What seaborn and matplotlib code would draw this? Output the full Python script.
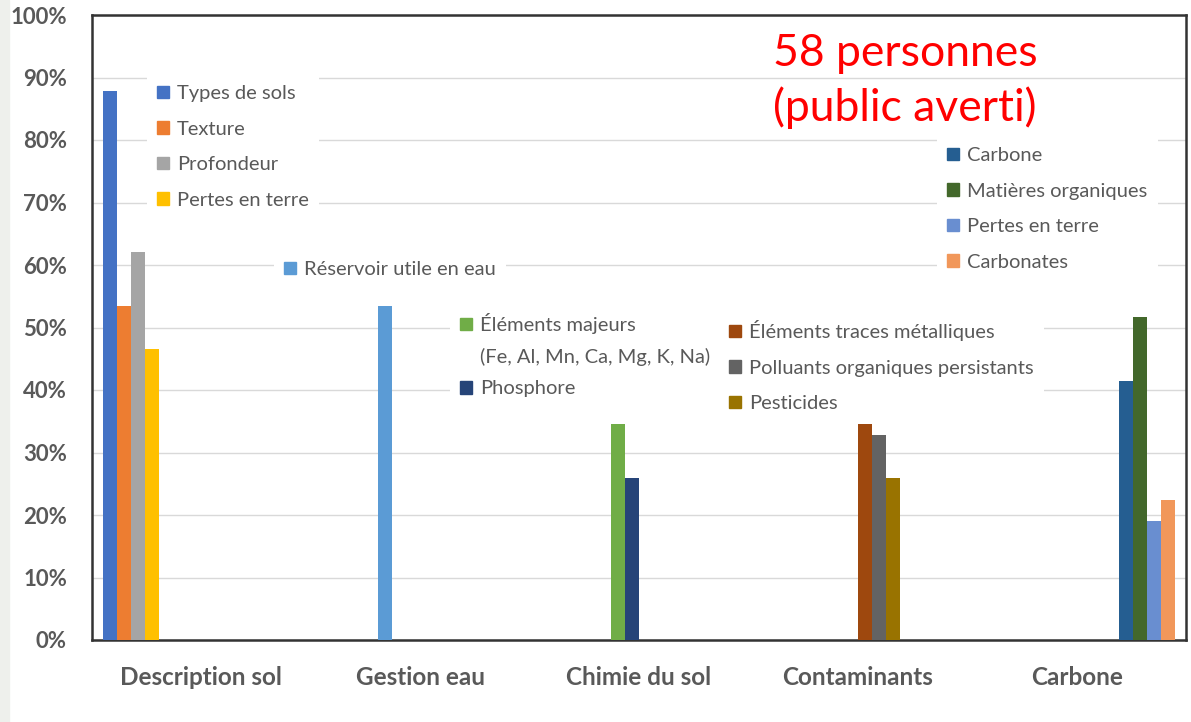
import matplotlib.pyplot as plt
import matplotlib.patches as mpatches
import pandas as pd
import seaborn as sns

categories = ["Description sol", "Gestion eau", "Chimie du sol", "Contaminants", "Carbone"]

series_desc = ["Types de sols", "Texture", "Profondeur", "Pertes en terre"]
values_desc = [87.9, 53.4, 62.1, 46.6]
series_eau = ["Réservoir utile en eau"]
values_eau = [53.4]
series_chimie = ["Éléments majeurs", "Phosphore"]
values_chimie = [34.5, 25.9]
series_contam = ["Éléments traces métalliques", "Polluants organiques persistants", "Pesticides"]
values_contam = [34.5, 32.8, 25.9]
series_carbone = ["Carbone", "Matières organiques", "Pertes en terre", "Carbonates"]
values_carbone = [41.4, 51.7, 19.0, 22.4]

colors = ["#4472C4", "#ED7D31", "#A5A5A5", "#FFC000", "#5B9BD5", "#70AD47", "#264478",
          "#9E480E", "#636363", "#997300", "#255E91", "#43682B", "#698ED0", "#F1975A"]

groups = [series_desc, series_eau, series_chimie, series_contam, series_carbone]
group_vals = [values_desc, values_eau, values_chimie, values_contam, values_carbone]

rows = []
for cat, names, vals in zip(categories, groups, group_vals):
    for n, v in zip(names, vals):
        rows.append({"categorie": cat, "serie": cat + " | " + n, "nom": n, "valeur": v})
df = pd.DataFrame(rows)
hue_order = list(df["serie"])

sns.set_style("white")
plt.rcParams["font.family"] = ["Lato", "DejaVu Sans"]

W, H = 1191, 722
fig = plt.figure(figsize=(W / 100, H / 100), dpi=100)
fig.patches.append(mpatches.Rectangle((0, 0), 9 / W, 1, transform=fig.transFigure,
                                      color="#EEF0EC", zorder=0))
ax = fig.add_axes([92 / W, 1 - 640 / H, (1186 - 92) / W, (640 - 15) / H])

sns.barplot(data=df, x="categorie", y="valeur", hue="serie", hue_order=hue_order,
            order=categories, palette=colors, saturation=1, width=0.9, linewidth=0,
            legend=False, ax=ax, zorder=3)

gray = "#595959"
ax.set_ylim(0, 100)
ax.set_yticks(range(0, 101, 10))
ax.set_yticklabels([f"{v}%" for v in range(0, 101, 10)], fontsize=16, fontweight="bold", color=gray)
ax.yaxis.grid(True, color="#D9D9D9", linewidth=1, zorder=0)
ax.set_axisbelow(True)

ax.set_xlim(-0.5, len(categories) - 0.5)
ax.set_xticks([i - 0.5 for i in range(len(categories) + 1)])
ax.set_xticklabels([])
ax.set_xticks(range(len(categories)), minor=True)
ax.set_xticklabels(categories, minor=True, fontsize=17.5, fontweight="bold", color=gray)
ax.tick_params(axis="x", which="major", length=8, width=1.5, color="#333333", direction="out")
ax.tick_params(axis="x", which="minor", length=0, pad=19)
ax.tick_params(axis="y", length=6, width=1.5, color="#333333", direction="out", pad=12)
ax.set_xlabel("")
ax.set_ylabel("")
for s in ax.spines.values():
    s.set_visible(True)
    s.set_color("#333333")
    s.set_linewidth(1.8)


def add_legend(names, cols, x, y, spacing=0.92):
    handles = []
    for n, c in zip(names, cols):
        if c is None:
            handles.append(mpatches.Patch(color="none", label=n))
        else:
            handles.append(mpatches.Patch(color=c, label=n))
    leg = ax.legend(handles=handles, loc="upper left", bbox_to_anchor=(x / W, 1 - y / H),
                    bbox_transform=fig.transFigure, frameon=True, facecolor="white",
                    edgecolor="none", framealpha=1, fancybox=False, fontsize=14.5,
                    labelcolor=gray, handlelength=0.6, handleheight=0.6, handletextpad=0.4,
                    labelspacing=spacing, borderpad=0.5, borderaxespad=0)
    leg.set_zorder(5)
    ax.add_artist(leg)


add_legend(series_desc, colors[0:4], 147, 75)
add_legend(series_eau, colors[4:5], 274, 251)
add_legend([series_chimie[0], "(Fe, Al, Mn, Ca, Mg, K, Na)", series_chimie[1]],
           [colors[5], None, colors[6]], 450, 303, spacing=0.7)
add_legend(series_contam, colors[7:10], 719, 310)
add_legend(series_carbone, colors[10:14], 937, 137)

fig.text(773 / W, 1 - 33 / H, "58 personnes\n(public averti)", color="#FF0000",
         fontsize=32, va="top", ha="left", linespacing=1.37)

fig.savefig("out.png", dpi=100)
